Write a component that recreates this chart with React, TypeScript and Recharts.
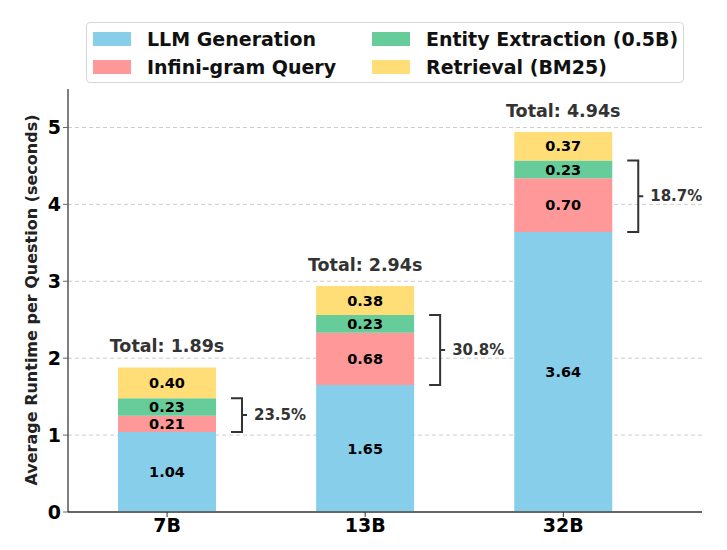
import React from 'react'
import {
  BarChart,
  Bar,
  XAxis,
  YAxis,
  CartesianGrid,
  LabelList,
  Rectangle
} from 'recharts'

const models = ['7B', '13B', '32B']
const llmGeneration = [1.04, 1.65, 3.64]
const infiniGram = [0.21, 0.68, 0.7]
const entityExtraction = [0.23, 0.23, 0.23]
const retrieval = [0.4, 0.38, 0.37]
const totals = [1.89, 2.94, 4.94]
const overheadShare = ['23.5%', '30.8%', '18.7%']
const yTicks = [0, 1, 2, 3, 4, 5]

const series = [
  { key: 'llm', name: 'LLM Generation', color: '#87CEEB' },
  { key: 'infini', name: 'Infini-gram Query', color: '#FF9999' },
  { key: 'entity', name: 'Entity Extraction (0.5B)', color: '#66CC99' },
  { key: 'retrieval', name: 'Retrieval (BM25)', color: '#FFDD77' }
]

const data = models.map((m, i) => ({
  x: i,
  model: m,
  llm: llmGeneration[i],
  infini: infiniGram[i],
  entity: entityExtraction[i],
  retrieval: retrieval[i],
  total: totals[i],
  share: overheadShare[i]
}))

const FONT = '"DejaVu Sans", sans-serif'
const valueStyle = { fontFamily: FONT, fontWeight: 'bold', fontSize: 14.5, fill: '#000' }

// entity segment + bracket covering infini-gram and entity extraction
const EntityShape = (props: any) => {
  const { x, y, width, height, fill, payload } = props
  const ppu = payload.entity ? height / payload.entity : 0
  const top = y
  const bottom = y + height + payload.infini * ppu
  const bx = x + width + 26
  const mid = (top + bottom) / 2
  return (
    <g>
      <Rectangle x={x} y={y} width={width} height={height} fill={fill} />
      <path
        d={`M${x + width + 15},${top} H${bx} V${bottom} H${x + width + 15} M${bx},${mid} H${bx + 5}`}
        stroke="#333"
        strokeWidth={2}
        fill="none"
      />
      <text
        x={bx + 12}
        y={mid}
        dominantBaseline="central"
        fontFamily={FONT}
        fontWeight="bold"
        fontSize={15}
        fill="#333"
      >
        {payload.share}
      </text>
    </g>
  )
}

const TotalLabel = (props: any) => {
  const { x, y, width, value } = props
  return (
    <text
      x={x + width / 2}
      y={y - 21}
      textAnchor="middle"
      dominantBaseline="central"
      fontFamily={FONT}
      fontWeight="bold"
      fontSize={17.5}
      fill="#333"
    >
      {`Total: ${Number(value).toFixed(2)}s`}
    </text>
  )
}

const LegendBox = () => (
  <div
    style={{
      position: 'absolute',
      left: 86,
      top: 22,
      width: 598,
      height: 61,
      boxSizing: 'border-box',
      border: '1px solid #d6d6d6',
      borderRadius: 4,
      background: '#fff',
      display: 'grid',
      gridTemplateColumns: '279px 1fr',
      gridTemplateRows: '28px 28px',
      padding: '2px 0 0 6px',
      fontFamily: FONT,
      fontWeight: 'bold',
      fontSize: 19,
      color: '#111',
      whiteSpace: 'nowrap'
    }}
  >
    {[0, 2, 1, 3].map((idx) => (
      <div key={series[idx].key} style={{ display: 'flex', alignItems: 'center' }}>
        <span
          style={{
            display: 'inline-block',
            width: 38,
            height: 14,
            background: series[idx].color,
            marginRight: 16
          }}
        />
        {series[idx].name}
      </div>
    ))}
  </div>
)

const AxisTitle = () => (
  <text
    transform="translate(31,300) rotate(-90)"
    textAnchor="middle"
    dominantBaseline="central"
    fontFamily={FONT}
    fontWeight="bold"
    fontSize={16}
    fill="#222"
  >
    Average Runtime per Question (seconds)
  </text>
)

export default function App() {
  return (
    <div style={{ position: 'absolute', left: 0, top: 0, width: 727, height: 550, background: '#fff' }}>
      <BarChart
        width={727}
        height={550}
        data={data}
        margin={{ top: 89, right: 25, bottom: 8, left: 0 }}
      >
        <CartesianGrid
          vertical={false}
          stroke="#cccccc"
          strokeDasharray="4 3"
          horizontalValues={[1, 2, 3, 4, 5]}
        />
        <XAxis
          dataKey="x"
          type="number"
          domain={[-0.5, 2.7]}
          ticks={[0, 1, 2]}
          height={30}
          tickFormatter={(v: number) => models[v]}
          axisLine={{ stroke: '#666', strokeWidth: 2 }}
          tickLine={{ stroke: '#333' }}
          tickSize={5}
          tick={{ fontFamily: FONT, fontWeight: 'bold', fontSize: 19, fill: '#000' }}
          allowDataOverflow
        />
        <YAxis
          domain={[0, 5.5]}
          ticks={yTicks}
          width={68}
          axisLine={{ stroke: '#000' }}
          tickLine={{ stroke: '#666' }}
          tickSize={5}
          tick={{ fontFamily: FONT, fontWeight: 'bold', fontSize: 19, fill: '#000' }}
          label={{ content: AxisTitle }}
        />
        <Bar dataKey="llm" stackId="a" fill={series[0].color} barSize={98} isAnimationActive={false}>
          <LabelList dataKey="llm" position="center" formatter={(v: any) => Number(v).toFixed(2)} style={valueStyle} />
        </Bar>
        <Bar dataKey="infini" stackId="a" fill={series[1].color} barSize={98} isAnimationActive={false}>
          <LabelList dataKey="infini" position="center" formatter={(v: any) => Number(v).toFixed(2)} style={valueStyle} />
        </Bar>
        <Bar
          dataKey="entity"
          stackId="a"
          fill={series[2].color}
          barSize={98}
          shape={EntityShape}
          isAnimationActive={false}
        >
          <LabelList dataKey="entity" position="center" formatter={(v: any) => Number(v).toFixed(2)} style={valueStyle} />
        </Bar>
        <Bar dataKey="retrieval" stackId="a" fill={series[3].color} barSize={98} isAnimationActive={false}>
          <LabelList dataKey="retrieval" position="center" formatter={(v: any) => Number(v).toFixed(2)} style={valueStyle} />
          <LabelList dataKey="total" content={TotalLabel} />
        </Bar>
      </BarChart>
      <LegendBox />
    </div>
  )
}
